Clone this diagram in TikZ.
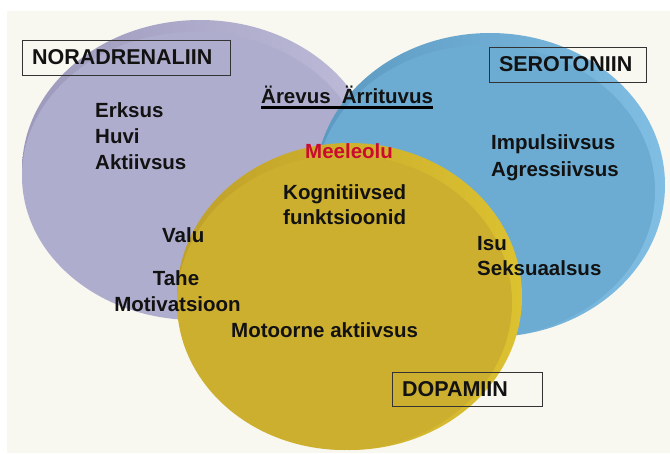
\documentclass[tikz,border=0pt]{standalone}
\usepackage{fontspec}
\setmainfont{Liberation Sans}
\definecolor{bgcream}{HTML}{F8F7F0}
\definecolor{purpleface}{HTML}{AFADCD}
\definecolor{purpledark}{HTML}{9C99BC}
\definecolor{purplelight}{HTML}{BEBCD9}
\definecolor{blueface}{HTML}{6CACD2}
\definecolor{bluedark}{HTML}{5C99C2}
\definecolor{bluelight}{HTML}{80BEE3}
\definecolor{yellowface}{HTML}{CDAF30}
\definecolor{yellowdark}{HTML}{BFA02A}
\definecolor{yellowlight}{HTML}{DCC130}
\definecolor{moodred}{HTML}{CC0A30}
\newcommand\myBevel[7]{%
  \shade[left color=#5, middle color=#5, right color=#6]
    (#1,#2) ellipse [x radius=#3, y radius=#4];
  \fill[#7] (#1-5,#2+6) ellipse [x radius=#3-5, y radius=#4-6];
}
\begin{document}
\begin{tikzpicture}[x=1pt,y=-1pt,
  txt/.style={inner sep=0pt, font=\bfseries\fontsize{20.5}{24}\selectfont, text=black!93},
  labelbox/.style={draw=black!80, line width=0.8pt, inner xsep=10pt, inner ysep=0pt,
    align=left, font=\bfseries\fontsize{21.5}{24}\selectfont, text=black!93}]
\useasboundingbox (0,0) rectangle (670,453);
\fill[white] (0,0) rectangle (670,453);
\fill[bgcream] (7,11) rectangle (670,453);

% ellipses
\myBevel{200}{170}{178}{150}{purpledark}{purplelight}{purpleface}
\myBevel{490}{185}{175}{152}{bluedark}{bluelight}{blueface}
\myBevel{349.5}{296.5}{172.5}{153.5}{yellowdark}{yellowlight}{yellowface}

% label boxes
\node[labelbox, minimum height=35pt, text width=188pt] (nor) at (126,57.5) {NORADRENALIIN};
\node[labelbox, minimum height=35pt, text width=137pt] (ser) at (567.5,64.5) {SEROTONIIN};
\node[labelbox, minimum height=34pt, text width=130pt] (dop) at (467,389) {DOPAMIIN};

% texts
\node[txt, anchor=base west] (erksus) at (95,117) {Erksus};
\node[txt, anchor=base west] (huvi) at (95,143) {Huvi};
\node[txt, anchor=base west] (aktiivsus) at (95,169) {Aktiivsus};
\node[txt, anchor=base west] (arevus) at (261,103) {Ärevus\hspace{5.5pt} Ärrituvus};
\draw[line width=2.4pt] ([yshift=-4.4pt]arevus.base west) -- ([yshift=-4.4pt]arevus.base east);
\node[txt, text=moodred, anchor=base west] (meeleolu) at (305,158) {Meeleolu};
\node[txt, anchor=base west] (kogn) at (283,199) {Kognitiivsed};
\node[txt, anchor=base west] (funk) at (283,224) {funktsioonid};
\node[txt, anchor=base west] (impul) at (491,149) {Impulsiivsus};
\node[txt, anchor=base west] (agres) at (491,176) {Agressiivsus};
\node[txt, anchor=base west] (valu) at (162,242) {Valu};
\node[txt, anchor=base] (tahe) at (176,285) {Tahe};
\node[txt, anchor=base] (motiv) at (177.5,311) {Motivatsioon};
\node[txt, anchor=base west] (motoor) at (231,337) {Motoorne aktiivsus};
\node[txt, anchor=base west] (isu) at (477,250) {Isu};
\node[txt, anchor=base west] (seks) at (477,275) {Seksuaalsus};
\end{tikzpicture}
\end{document}
